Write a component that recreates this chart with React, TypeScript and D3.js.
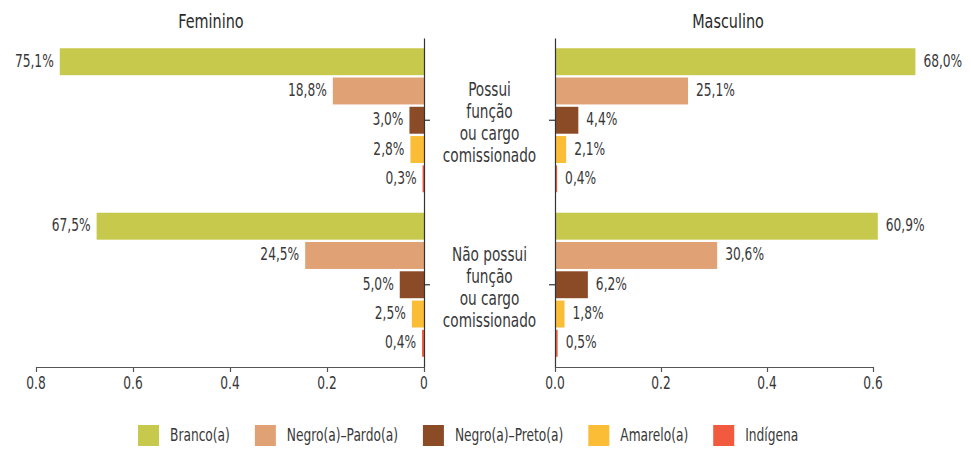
import React, { useEffect, useRef } from 'react';
import * as d3 from 'd3';

// categories
const races = ['Branco(a)', 'Negro(a)–Pardo(a)', 'Negro(a)–Preto(a)', 'Amarelo(a)', 'Indígena'];
const raceColors = ['#c6c94c', '#e0a274', '#8c4b27', '#fbbd36', '#f15a3e'];
const groups = ['Possui', 'Não possui'];
const groupLabels = [
  ['Possui', 'função', 'ou cargo', 'comissionado'],
  ['Não possui', 'função', 'ou cargo', 'comissionado'],
];

// series values (share of each race)
const femininoPossui = [0.751, 0.188, 0.03, 0.028, 0.003];
const femininoNaoPossui = [0.675, 0.245, 0.05, 0.025, 0.004];
const masculinoPossui = [0.68, 0.251, 0.044, 0.021, 0.004];
const masculinoNaoPossui = [0.609, 0.306, 0.062, 0.018, 0.005];

// tick labels
const leftTicks = [0, 0.2, 0.4, 0.6, 0.8];
const rightTicks = [0, 0.2, 0.4, 0.6];

const FONT = "'DejaVu Sans Condensed', 'DejaVu Sans', sans-serif";
const TEXT = '#383838';
const SQUEEZE = 0.8; // the original uses a narrow face

type Sel = d3.Selection<any, unknown, null, undefined>;

// narrow text: draw at (x, y) and squeeze horizontally
function label(parent: Sel, x: number, y: number, str: string, size: number, anchor = 'start', fill = TEXT) {
  return parent.append('text')
    .attr('transform', `translate(${x},${y}) scale(${SQUEEZE},1)`)
    .attr('text-anchor', anchor)
    .style('font-family', FONT)
    .style('font-stretch', 'condensed')
    .style('font-size', `${size}px`)
    .style('fill', fill)
    .text(str);
}

const App: React.FC = () => {
  const ref = useRef<SVGSVGElement>(null);

  useEffect(() => {
    document.body.style.margin = '0';
    if (!ref.current) return;
    const svg = d3.select(ref.current);
    svg.selectAll('*').remove();

    svg.attr('width', 971).attr('height', 450);

    const xLeft = d3.scaleLinear().domain([0, 0.8]).range([424, 36]);
    const xRight = d3.scaleLinear().domain([0, 0.6]).range([555, 873]);
    const yGroup = d3.scaleBand<string>().domain(groups).range([38, 367]);
    const yInner = d3.scaleBand<string>()
      .domain(races)
      .range([0, yGroup.bandwidth()])
      .paddingInner(0.08)
      .paddingOuter(0.35);

    const fmt = (v: number) => d3.format('.1%')(v).replace('.', ',');

    const panels = [
      { x: xLeft, side: 'left', series: [femininoPossui, femininoNaoPossui] },
      { x: xRight, side: 'right', series: [masculinoPossui, masculinoNaoPossui] },
    ];

    panels.forEach((p) => {
      groups.forEach((g, gi) => {
        const vals = p.series[gi];
        const gEl = svg.append('g').attr('transform', `translate(0,${yGroup(g)})`);
        races.forEach((r, i) => {
          const v = vals[i];
          const x0 = p.x(0);
          const x1 = p.x(v);
          const y = yInner(r)!;
          gEl.append('rect')
            .attr('x', Math.min(x0, x1))
            .attr('y', y)
            .attr('width', Math.abs(x1 - x0))
            .attr('height', yInner.bandwidth())
            .attr('fill', raceColors[i]);
          label(
            gEl,
            p.side === 'left' ? x1 - 6 : x1 + 8,
            y + yInner.bandwidth() / 2 + 5,
            fmt(v),
            17,
            p.side === 'left' ? 'end' : 'start',
          );
        });
      });
    });

    // vertical axes
    const axisL = svg.append('g')
      .attr('transform', `translate(${xLeft(0)},0)`)
      .call(d3.axisRight(yGroup).tickSize(6).tickSizeOuter(0).tickFormat(() => ''));
    const axisR = svg.append('g')
      .attr('transform', `translate(${xRight(0)},0)`)
      .call(d3.axisLeft(yGroup).tickSize(6).tickSizeOuter(0).tickFormat(() => ''));
    [axisL, axisR].forEach((a) => {
      a.selectAll('path, line').attr('stroke', '#333').attr('stroke-width', 1.2);
    });

    // bottom axes
    const bottomY = yGroup.range()[1];
    const axes = [
      { x: xLeft, ticks: leftTicks, f: (d: number) => (d === 0 ? '0' : d3.format('.1f')(d)) },
      { x: xRight, ticks: rightTicks, f: (d: number) => d3.format('.1f')(d) },
    ];
    axes.forEach((a) => {
      const g = svg.append('g')
        .attr('transform', `translate(0,${bottomY})`)
        .call(d3.axisBottom(a.x).tickValues(a.ticks).tickSize(5).tickSizeOuter(0).tickFormat(() => ''));
      g.selectAll('path, line').attr('stroke', '#555').attr('stroke-width', 1.2);
      a.ticks.forEach((t) => label(svg, a.x(t), bottomY + 22, a.f(t), 17, 'middle'));
    });

    // center labels
    const cx = (xLeft(0) + xRight(0)) / 2;
    groups.forEach((g, gi) => {
      const cy = yGroup(g)! + yGroup.bandwidth() / 2;
      groupLabels[gi].forEach((line, li) => {
        label(svg, cx, cy - 24 + li * 22, line, 19, 'middle');
      });
    });

    // panel titles
    label(svg, 211, 28, 'Feminino', 20, 'middle', '#2a2a2a');
    label(svg, 728, 28, 'Masculino', 20, 'middle', '#2a2a2a');

    // legend
    const legend = svg.append('g').attr('transform', 'translate(138,425)');
    let lx = 0;
    races.forEach((r, i) => {
      legend.append('rect')
        .attr('x', lx).attr('y', 0)
        .attr('width', 21).attr('height', 21)
        .attr('fill', raceColors[i]);
      const t = label(legend, lx + 32, 16, r, 17);
      const w = (t.node() as SVGTextElement).getComputedTextLength() * SQUEEZE;
      lx += 32 + w + 25;
    });
  }, []);

  return <svg ref={ref} style={{ display: 'block' }} />;
};

export default App;
